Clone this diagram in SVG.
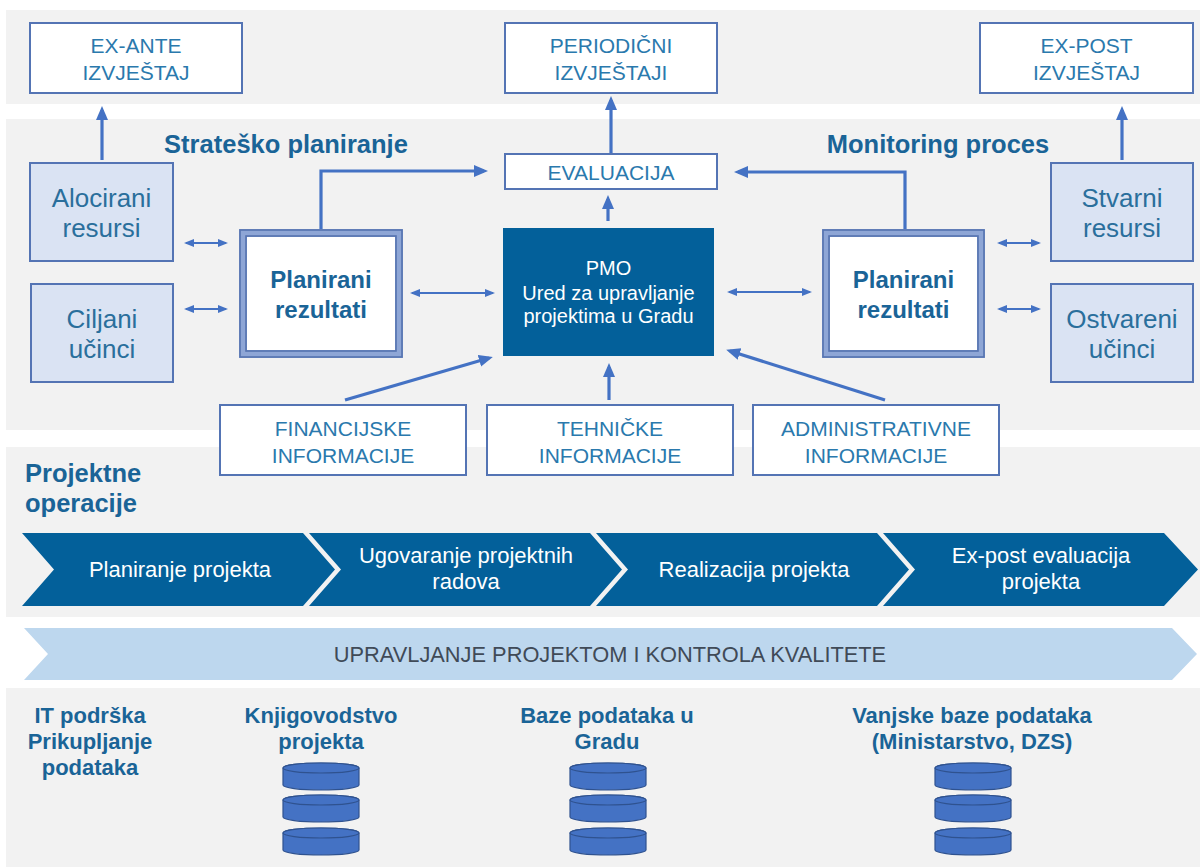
<svg xmlns="http://www.w3.org/2000/svg" width="1200" height="867" viewBox="0 0 1200 867">
<style>
text{font-family:"Liberation Sans",Arial,sans-serif;text-anchor:middle}
.panel{fill:#f2f2f2}
.box{fill:#ffffff;stroke:#5474b4;stroke-width:2}
.lbox{fill:#dae3f3;stroke:#5474b4;stroke-width:2}
.cap{font-size:21px;fill:#2a79ad}
.reg{font-size:26px;fill:#2a6f9c}
.bold{font-weight:bold;fill:#1a6497}
.h{font-size:25.5px}
.pl{font-size:24px}
.bt{font-size:22px}
.pmo{fill:#03609a}
.pmot{font-size:20px;fill:#ffffff}
.chev{fill:#03609a}
.chevt{font-size:22px;fill:#ffffff}
.qual{fill:#bdd7ee}
.qualt{font-size:21.8px;fill:#404a57}
.frame{fill:#ffffff;stroke:#8ea6d6;stroke-width:8}
.fl{fill:none;stroke:#5673b0;stroke-width:1.6}
.conn{fill:none;stroke:#4472c4;stroke-width:3.2}
.dbl{fill:none;stroke:#4472c4;stroke-width:2}
.db{fill:#4472c4;stroke:#2f528f;stroke-width:1.2}
</style>
<defs>
<marker id="ah" markerUnits="userSpaceOnUse" markerWidth="14" markerHeight="14" viewBox="0 0 14 14" refX="10" refY="7" orient="auto"><path d="M0,1 L14,7 L0,13 z" fill="#4472c4"/></marker>
<marker id="sh" markerUnits="userSpaceOnUse" markerWidth="10" markerHeight="10" viewBox="0 0 10 10" refX="8" refY="5" orient="auto-start-reverse"><path d="M0,1 L10,5 L0,9 z" fill="#4472c4"/></marker>
<g id="cyl">
<path class="db" d="M0,5 A38,5 0 0 1 76,5 V22 A38,5 0 0 1 0,22 Z"/>
<ellipse class="db" cx="38" cy="5" rx="38" ry="5"/>
</g>
</defs>

<g id="panels">
<rect class="panel" x="6" y="10" width="1194" height="94"/>
<rect class="panel" x="6" y="119" width="1194" height="311"/>
<rect class="panel" x="6" y="447" width="1194" height="170"/>
<rect class="panel" x="6" y="688" width="1194" height="179"/>
</g>

<g id="connectors">
<line class="conn" x1="102" y1="160" x2="102" y2="110" marker-end="url(#ah)"/>
<line class="conn" x1="1122" y1="160" x2="1122" y2="110" marker-end="url(#ah)"/>
<line class="conn" x1="611" y1="153" x2="611" y2="100" marker-end="url(#ah)"/>
<line class="conn" x1="608" y1="221" x2="608" y2="199" marker-end="url(#ah)"/>
<path class="conn" d="M321,229 V171 H484" marker-end="url(#ah)"/>
<path class="conn" d="M905,229 V172 H738" marker-end="url(#ah)"/>
<line class="conn" x1="345" y1="400" x2="489" y2="358" marker-end="url(#ah)"/>
<line class="conn" x1="609" y1="400" x2="609" y2="367" marker-end="url(#ah)"/>
<line class="conn" x1="885" y1="400" x2="730" y2="351" marker-end="url(#ah)"/>
<line class="dbl" x1="186" y1="243" x2="226" y2="243" marker-start="url(#sh)" marker-end="url(#sh)"/>
<line class="dbl" x1="186" y1="309" x2="226" y2="309" marker-start="url(#sh)" marker-end="url(#sh)"/>
<line class="dbl" x1="412" y1="293" x2="493" y2="293" marker-start="url(#sh)" marker-end="url(#sh)"/>
<line class="dbl" x1="729" y1="292" x2="810" y2="292" marker-start="url(#sh)" marker-end="url(#sh)"/>
<line class="dbl" x1="999" y1="243" x2="1039" y2="243" marker-start="url(#sh)" marker-end="url(#sh)"/>
<line class="dbl" x1="999" y1="309" x2="1039" y2="309" marker-start="url(#sh)" marker-end="url(#sh)"/>
</g>

<g id="ex-ante">
<rect class="box" x="30" y="23" width="212" height="70"/>
<text class="cap" x="136" y="53">EX-ANTE</text>
<text class="cap" x="136" y="80">IZVJEŠTAJ</text>
</g>
<g id="periodicni">
<rect class="box" x="505" y="23" width="212" height="70"/>
<text class="cap" x="611" y="53">PERIODIČNI</text>
<text class="cap" x="611" y="80">IZVJEŠTAJI</text>
</g>
<g id="ex-post">
<rect class="box" x="980" y="23" width="213" height="70"/>
<text class="cap" x="1086.5" y="53">EX-POST</text>
<text class="cap" x="1086.5" y="80">IZVJEŠTAJ</text>
</g>

<g id="strat-label"><text class="bold h" x="286" y="153">Strateško planiranje</text></g>
<g id="monitor-label"><text class="bold h" x="938" y="153">Monitoring proces</text></g>

<g id="evaluacija">
<rect class="box" x="505" y="154" width="212" height="35"/>
<text class="cap" x="611" y="180">EVALUACIJA</text>
</g>

<g id="alocirani">
<rect class="lbox" x="30" y="163" width="143" height="98"/>
<text class="reg" x="101.5" y="207">Alocirani</text>
<text class="reg" x="101.5" y="237">resursi</text>
</g>
<g id="ciljani">
<rect class="lbox" x="31" y="284" width="142" height="98"/>
<text class="reg" x="102" y="328">Ciljani</text>
<text class="reg" x="102" y="358">učinci</text>
</g>
<g id="stvarni">
<rect class="lbox" x="1051" y="163" width="142" height="98"/>
<text class="reg" x="1122" y="207">Stvarni</text>
<text class="reg" x="1122" y="237">resursi</text>
</g>
<g id="ostvareni">
<rect class="lbox" x="1051" y="284" width="142" height="98"/>
<text class="reg" x="1122" y="328">Ostvareni</text>
<text class="reg" x="1122" y="358">učinci</text>
</g>

<g id="planirani-left">
<rect class="frame" x="243" y="233" width="156" height="121"/>
<rect class="fl" x="240" y="230" width="162" height="127"/>
<rect class="fl" x="246" y="236" width="150" height="115"/>
<text class="bold pl" x="321" y="288">Planirani</text>
<text class="bold pl" x="321" y="318">rezultati</text>
</g>
<g id="planirani-right">
<rect class="frame" x="826" y="233" width="155" height="121"/>
<rect class="fl" x="823" y="230" width="161" height="127"/>
<rect class="fl" x="829" y="236" width="149" height="115"/>
<text class="bold pl" x="903.5" y="288">Planirani</text>
<text class="bold pl" x="903.5" y="318">rezultati</text>
</g>

<g id="pmo">
<rect class="pmo" x="503" y="228" width="211" height="128"/>
<text class="pmot" x="608.5" y="275">PMO</text>
<text class="pmot" x="608.5" y="300">Ured za upravljanje</text>
<text class="pmot" x="608.5" y="323">projektima  u Gradu</text>
</g>

<g id="financijske">
<rect class="box" x="220" y="405" width="246" height="70"/>
<text class="cap" x="343" y="436">FINANCIJSKE</text>
<text class="cap" x="343" y="463">INFORMACIJE</text>
</g>
<g id="tehnicke">
<rect class="box" x="487" y="405" width="246" height="70"/>
<text class="cap" x="610" y="436">TEHNIČKE</text>
<text class="cap" x="610" y="463">INFORMACIJE</text>
</g>
<g id="administrativne">
<rect class="box" x="753" y="405" width="246" height="70"/>
<text class="cap" x="876" y="436">ADMINISTRATIVNE</text>
<text class="cap" x="876" y="463">INFORMACIJE</text>
</g>

<g id="projektne-label">
<text class="bold h" x="25" y="482" style="text-anchor:start">Projektne</text>
<text class="bold h" x="25" y="512" style="text-anchor:start">operacije</text>
</g>

<g id="chevron-1">
<polygon class="chev" points="22,533 303,533 335,569.5 303,606 22,606 54,569.5"/>
<text class="chevt" x="180" y="577">Planiranje projekta</text>
</g>
<g id="chevron-2">
<polygon class="chev" points="309,533 590,533 622,569.5 590,606 309,606 341,569.5"/>
<text class="chevt" x="466" y="563">Ugovaranje projektnih</text>
<text class="chevt" x="466" y="589">radova</text>
</g>
<g id="chevron-3">
<polygon class="chev" points="596,533 877,533 909,569.5 877,606 596,606 628,569.5"/>
<text class="chevt" x="754" y="577">Realizacija projekta</text>
</g>
<g id="chevron-4">
<polygon class="chev" points="883,533 1164,533 1198,569.5 1164,606 883,606 915,569.5"/>
<text class="chevt" x="1041" y="563">Ex-post evaluacija</text>
<text class="chevt" x="1041" y="589">projekta</text>
</g>

<g id="quality">
<polygon class="qual" points="24,628 1172,628 1197,654 1172,680 24,680 48,654"/>
<text class="qualt" x="610" y="662">UPRAVLJANJE PROJEKTOM I KONTROLA KVALITETE</text>
</g>

<g id="it-podrska">
<text class="bold bt" x="90" y="723">IT podrška</text>
<text class="bold bt" x="90" y="749">Prikupljanje</text>
<text class="bold bt" x="90" y="775">podataka</text>
</g>
<g id="knjigovodstvo">
<text class="bold bt" x="321" y="723">Knjigovodstvo</text>
<text class="bold bt" x="321" y="749">projekta</text>
<use href="#cyl" x="283" y="763"/>
<use href="#cyl" x="283" y="795"/>
<use href="#cyl" x="283" y="828"/>
</g>
<g id="baze-grad">
<text class="bold bt" x="607" y="723">Baze podataka u</text>
<text class="bold bt" x="607" y="749">Gradu</text>
<use href="#cyl" x="570" y="763"/>
<use href="#cyl" x="570" y="795"/>
<use href="#cyl" x="570" y="828"/>
</g>
<g id="vanjske-baze">
<text class="bold bt" x="972" y="723">Vanjske baze podataka</text>
<text class="bold bt" x="972" y="749">(Ministarstvo, DZS)</text>
<use href="#cyl" x="935" y="763"/>
<use href="#cyl" x="935" y="795"/>
<use href="#cyl" x="935" y="828"/>
</g>
</svg>
